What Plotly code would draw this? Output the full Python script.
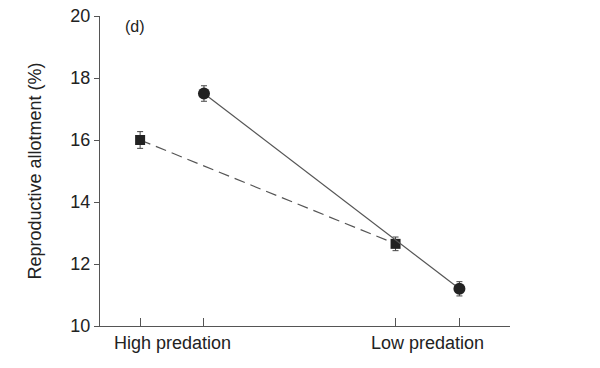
import plotly.graph_objects as go

categories = ["High predation", "Low predation"]
square_vals = [16.0, 12.65]
square_err = [0.27, 0.22]
circle_vals = [17.5, 11.2]
circle_err = [0.25, 0.23]
yticks = [10, 12, 14, 16, 18, 20]
panel_label = "(d)"
y_title = "Reproductive allotment (%)"

cat_pos = [1, 2]
offset = 0.125
sq_x = [p - offset for p in cat_pos]
ci_x = [p + offset for p in cat_pos]

line_col = "#555555"
mark_col = "#222222"
font_family = "Liberation Sans, Arial, Helvetica, sans-serif"

fig = go.Figure()
fig.add_trace(go.Scatter(
    x=sq_x, y=square_vals, mode="lines+markers",
    line=dict(color=line_col, width=1.2, dash="11px,6px"),
    marker=dict(symbol="square", size=10, color=mark_col),
    error_y=dict(type="data", array=square_err, color="#444444", thickness=1, width=3),
    showlegend=False,
))
fig.add_trace(go.Scatter(
    x=ci_x, y=circle_vals, mode="lines+markers",
    line=dict(color=line_col, width=1.2),
    marker=dict(symbol="circle", size=12, color=mark_col),
    error_y=dict(type="data", array=circle_err, color="#444444", thickness=1, width=3),
    showlegend=False,
))

for cat, p in zip(categories, cat_pos):
    fig.add_annotation(x=p, y=0, xref="x", yref="paper", text=cat, showarrow=False,
                       yanchor="top", yshift=-5, font=dict(size=18, color="#222222", family=font_family))

fig.add_annotation(x=0.055, y=0.965, xref="paper", yref="paper", text=panel_label,
                   showarrow=False, xanchor="left", yanchor="middle",
                   font=dict(size=16, color="#222222", family=font_family))

fig.update_layout(
    width=600, height=368,
    margin=dict(l=100, r=90, t=16, b=42),
    plot_bgcolor="white", paper_bgcolor="white",
    font=dict(family=font_family, color="#222222", size=18),
    xaxis=dict(range=[0.718, 2.323], tickvals=sq_x + ci_x, ticktext=["", "", "", ""],
               ticks="inside", ticklen=8, tickcolor=line_col, tickwidth=1, automargin=False,
               showline=True, linecolor=line_col, linewidth=1, showgrid=False, zeroline=False),
    yaxis=dict(range=[10, 20], tickvals=yticks, ticks="outside", ticklen=5, automargin=False,
               ticklabeloverflow="allow",
               tickcolor=line_col, tickwidth=1, showline=True, linecolor=line_col, linewidth=1,
               showgrid=False, zeroline=False,
               title=dict(text=y_title, font=dict(size=18), standoff=24),
               tickfont=dict(size=18)),
)

fig.write_html("out.html", config={"displayModeBar": False},
               post_script="document.body.style.margin='0';")
